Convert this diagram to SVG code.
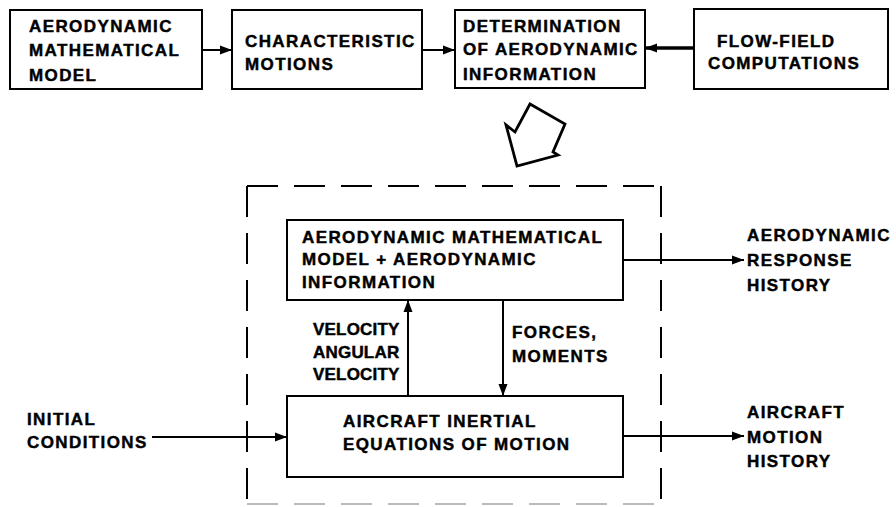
<svg xmlns="http://www.w3.org/2000/svg" width="896" height="507" viewBox="0 0 896 507">
<style>
text{font-family:"Liberation Sans",Arial,sans-serif;font-weight:bold;font-size:17px;letter-spacing:1.4px;fill:#000;stroke:#000;stroke-width:0.45}
text.tight{letter-spacing:0.2px}
.box{fill:#fff;stroke:#000;stroke-width:2}
.ln{fill:none;stroke:#000;stroke-width:2}
.thick{stroke-width:3.5}
.dash{fill:none;stroke:#000;stroke-width:2;stroke-dasharray:31 16}
</style>
<defs>
<marker id="ah" markerUnits="userSpaceOnUse" markerWidth="13" markerHeight="10" refX="12" refY="5" orient="auto">
<path d="M0,0.5 L12,5 L0,9.5 Z" fill="#000"/>
</marker>
</defs>
<rect width="896" height="507" fill="#fff"/>
<g id="frame">
<line class="dash" x1="247" y1="186" x2="661" y2="186"/>
<line class="dash" x1="247" y1="186" x2="247" y2="504"/>
<line class="dash" x1="661" y1="186" x2="661" y2="504"/>
<line class="dash" x1="247" y1="504" x2="661" y2="504" style="stroke:#bbb"/>
</g>
<g id="bigarrow">
<polygon points="530,104 565,124 553,152 558,155 517,166 506,125 515,132" fill="#fff" stroke="#000" stroke-width="2.8" stroke-linejoin="miter"/>
</g>
<g id="connectors">
<line class="ln" x1="202" y1="50" x2="232" y2="50" marker-end="url(#ah)"/>
<line class="ln" x1="422" y1="50" x2="455" y2="50" marker-end="url(#ah)"/>
<line class="ln thick" x1="694" y1="48" x2="645" y2="48" marker-end="url(#ah)"/>
<line class="ln" x1="408" y1="396" x2="408" y2="300" marker-end="url(#ah)"/>
<line class="ln" x1="503" y1="300" x2="503" y2="396" marker-end="url(#ah)"/>
<line class="ln" x1="623" y1="260" x2="744" y2="260" marker-end="url(#ah)"/>
<line class="ln" x1="623" y1="436" x2="744" y2="436" marker-end="url(#ah)"/>
<line class="ln" x1="152" y1="437" x2="287" y2="437" marker-end="url(#ah)"/>
</g>
<g id="n1">
<rect class="box" x="10" y="10" width="192" height="79"/>
<text x="29" y="32">AERODYNAMIC</text>
<text x="29" y="56">MATHEMATICAL</text>
<text x="29" y="81">MODEL</text>
</g>
<g id="n2">
<rect class="box" x="232" y="10" width="190" height="79"/>
<text x="245" y="47">CHARACTERISTIC</text>
<text x="245" y="70">MOTIONS</text>
</g>
<g id="n3">
<rect class="box" x="455" y="10" width="190" height="78"/>
<text x="463" y="32">DETERMINATION</text>
<text x="463" y="55">OF AERODYNAMIC</text>
<text x="463" y="80">INFORMATION</text>
</g>
<g id="n4">
<rect class="box" x="694" y="9" width="194" height="80"/>
<text x="717" y="47">FLOW-FIELD</text>
<text x="708" y="69">COMPUTATIONS</text>
</g>
<g id="n5">
<rect class="box" x="287" y="220" width="336" height="80"/>
<text x="302" y="243">AERODYNAMIC MATHEMATICAL</text>
<text x="302" y="265">MODEL + AERODYNAMIC</text>
<text x="302" y="288">INFORMATION</text>
</g>
<g id="n6">
<rect class="box" x="287" y="396" width="336" height="81"/>
<text x="343" y="427">AIRCRAFT INERTIAL</text>
<text x="343" y="450">EQUATIONS OF MOTION</text>
</g>
<g id="labels">
<text class="tight" x="313" y="335">VELOCITY</text>
<text class="tight" x="313" y="358">ANGULAR</text>
<text class="tight" x="313" y="380">VELOCITY</text>
<text x="512" y="338">FORCES,</text>
<text x="512" y="362">MOMENTS</text>
<text x="27" y="425">INITIAL</text>
<text x="27" y="448">CONDITIONS</text>
<text x="747" y="241">AERODYNAMIC</text>
<text x="747" y="266">RESPONSE</text>
<text x="747" y="291">HISTORY</text>
<text x="747" y="418">AIRCRAFT</text>
<text x="747" y="443">MOTION</text>
<text x="747" y="467">HISTORY</text>
</g>
</svg>
